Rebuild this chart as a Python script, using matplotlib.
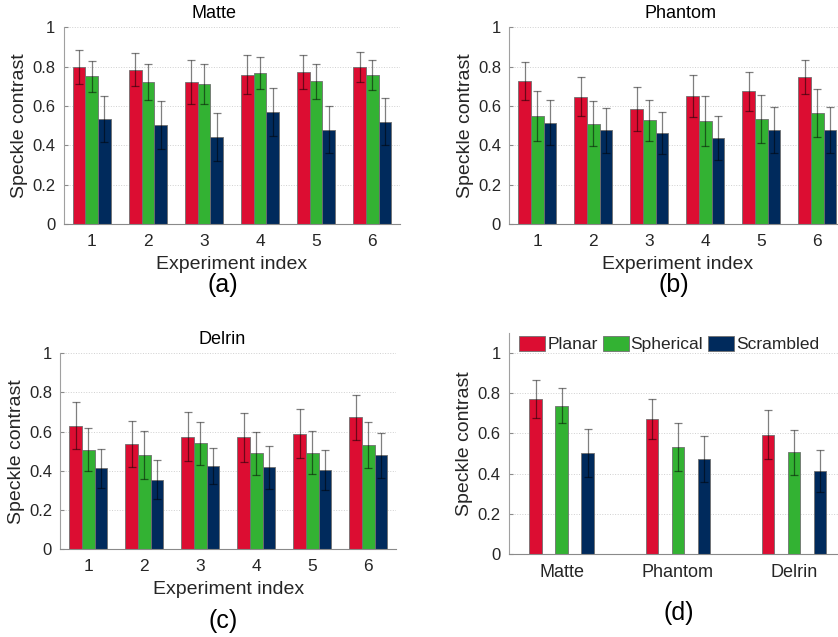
import numpy as np
import matplotlib.pyplot as plt

plt.rcParams['font.family'] = ['Liberation Sans', 'DejaVu Sans']

# colours for the three illumination types
RED = '#DC0D32'
GREEN = '#33B233'
NAVY = '#002A5C'
TEXT = '#262626'

methods = ['Planar', 'Spherical', 'Scrambled']
experiments = [1, 2, 3, 4, 5, 6]
materials = ['Matte', 'Phantom', 'Delrin']

# per-experiment means and std devs
matte_planar = [0.798, 0.785, 0.724, 0.759, 0.773, 0.798]
matte_planar_err = [0.087, 0.085, 0.112, 0.100, 0.088, 0.077]
matte_spherical = [0.751, 0.722, 0.712, 0.768, 0.725, 0.758]
matte_spherical_err = [0.080, 0.090, 0.100, 0.080, 0.090, 0.076]
matte_scrambled = [0.532, 0.503, 0.444, 0.568, 0.480, 0.519]
matte_scrambled_err = [0.117, 0.120, 0.122, 0.122, 0.120, 0.120]

phantom_planar = [0.727, 0.647, 0.585, 0.651, 0.675, 0.747]
phantom_planar_err = [0.095, 0.098, 0.113, 0.105, 0.100, 0.085]
phantom_spherical = [0.547, 0.510, 0.527, 0.525, 0.534, 0.563]
phantom_spherical_err = [0.127, 0.115, 0.105, 0.127, 0.120, 0.123]
phantom_scrambled = [0.514, 0.476, 0.461, 0.439, 0.480, 0.476]
phantom_scrambled_err = [0.115, 0.115, 0.107, 0.112, 0.117, 0.117]

delrin_planar = [0.631, 0.538, 0.575, 0.572, 0.589, 0.673]
delrin_planar_err = [0.118, 0.118, 0.124, 0.125, 0.125, 0.115]
delrin_spherical = [0.508, 0.481, 0.541, 0.489, 0.492, 0.531]
delrin_spherical_err = [0.110, 0.120, 0.110, 0.108, 0.110, 0.117]
delrin_scrambled = [0.413, 0.355, 0.426, 0.418, 0.403, 0.479]
delrin_scrambled_err = [0.100, 0.098, 0.092, 0.110, 0.101, 0.113]

# averages over all experiments
summary_planar = [0.770, 0.671, 0.594]
summary_planar_err = [0.093, 0.098, 0.120]
summary_spherical = [0.737, 0.531, 0.505]
summary_spherical_err = [0.086, 0.120, 0.114]
summary_scrambled = [0.503, 0.474, 0.414]
summary_scrambled_err = [0.120, 0.113, 0.103]


def style_axes(ax, ymax):
    ax.set_ylim(0, ymax)
    ax.set_yticks(np.arange(0, 1.01, 0.2))
    ax.set_yticklabels(['0', '0.2', '0.4', '0.6', '0.8', '1'])
    ax.yaxis.grid(True, linestyle=':', color='#d0d0d0', linewidth=0.7)
    ax.set_axisbelow(True)
    for s in ['top', 'right']:
        ax.spines[s].set_visible(False)
    ax.spines['left'].set_color('#a0a0a0')
    ax.spines['bottom'].set_color('#8a8a8a')
    ax.tick_params(axis='both', direction='in', length=3, color='#8a8a8a',
                   labelcolor=TEXT)
    ax.tick_params(axis='y', labelsize=12, pad=6)
    ax.tick_params(axis='x', labelsize=12.5, pad=7)
    ax.set_ylabel('Speckle contrast', fontsize=14, color=TEXT, labelpad=3)


def draw_bars(ax, x, series, errs, width, offsets):
    colors = [RED, GREEN, NAVY]
    handles = []
    for vals, err, off, c, name in zip(series, errs, offsets, colors, methods):
        b = ax.bar(x + off, vals, width, color=c, edgecolor='#707070',
                   linewidth=0.6, label=name)
        ax.errorbar(x + off, vals, yerr=err, fmt='none', ecolor='black',
                    alpha=0.5, elinewidth=0.9, capsize=3, capthick=0.9)
        handles.append(b)
    return handles


fig = plt.figure(figsize=(8.38, 6.37), dpi=100)

panels = [
    ('Matte', [0.076, 0.6484, 0.4017, 0.3088], 0.447,
     [matte_planar, matte_spherical, matte_scrambled],
     [matte_planar_err, matte_spherical_err, matte_scrambled_err]),
    ('Phantom', [0.6078, 0.6484, 0.4010, 0.3088], 0.508,
     [phantom_planar, phantom_spherical, phantom_scrambled],
     [phantom_planar_err, phantom_spherical_err, phantom_scrambled_err]),
    ('Delrin', [0.072, 0.1377, 0.4010, 0.3077], 0.481,
     [delrin_planar, delrin_spherical, delrin_scrambled],
     [delrin_planar_err, delrin_spherical_err, delrin_scrambled_err]),
]

x = np.array(experiments, dtype=float)
w = 0.226
for title, pos, tx, series, errs in panels:
    ax = fig.add_axes(pos)
    draw_bars(ax, x, series, errs, w, [-w, 0, w])
    ax.set_xlim(0.5, 6.5)
    ax.set_xticks(experiments)
    style_axes(ax, 1.0)
    ax.set_xlabel('Experiment index', fontsize=14, color=TEXT, labelpad=5)
    ax.text(tx, 1.025, title, transform=ax.transAxes, ha='center',
            va='bottom', fontsize=13, color='black')

# summary over materials
ax = fig.add_axes([0.6074, 0.1298, 0.4093, 0.3482])
xm = np.arange(1, len(materials) + 1, dtype=float)
h = draw_bars(ax, xm,
              [summary_planar, summary_spherical, summary_scrambled],
              [summary_planar_err, summary_spherical_err, summary_scrambled_err],
              0.11, [-0.224, 0, 0.224])
ax.set_xlim(0.545, 3.5)
ax.set_xticks(xm)
ax.set_xticklabels(materials)
style_axes(ax, 1.1)
ax.tick_params(axis='x', labelsize=13)
ax.legend(handles=h, loc='upper left', bbox_to_anchor=(0.0, 1.03), ncol=3,
          frameon=False, fontsize=12.5, handlelength=1.5, handleheight=0.9,
          handletextpad=0.1, columnspacing=0.3, borderaxespad=0.2,
          labelcolor=TEXT)

for lbl, cx, cy in [('(a)', 223, 285), ('(b)', 674, 285),
                    ('(c)', 223, 621), ('(d)', 679, 613)]:
    fig.text(cx / 838, 1 - cy / 637, lbl, ha='center', va='center',
             fontsize=18, color='black')

plt.savefig('out.png', dpi=100)
